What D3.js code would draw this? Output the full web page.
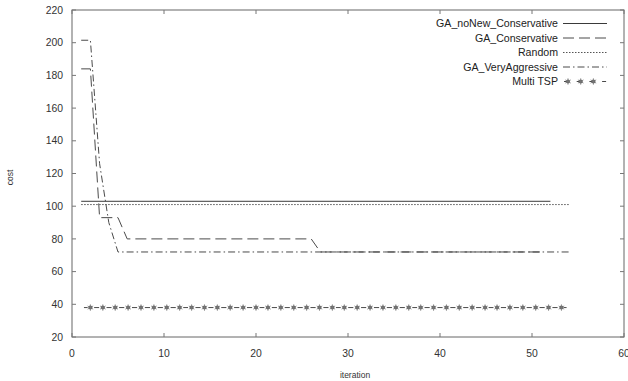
<!DOCTYPE html>
<html>
<head>
<meta charset="utf-8">
<script src="https://cdn.jsdelivr.net/npm/d3@7"></script>
<style>
  body { margin: 0; background: #fff; }
  svg { display: block; font-family: Arial, "Liberation Sans", sans-serif; }
</style>
</head>
<body>
<svg id="chart" width="628" height="381"></svg>
<script>
// breakpoints of each run (flat stretches are straight segments between them)
const noNewX = [1, 52];
const noNewY = [103, 103];
const conservativeX = [1, 2, 3, 5, 6, 26, 27, 51];
const conservativeY = [184, 184, 93, 93, 80, 80, 72, 72];
const randomX = [1, 54];
const randomY = [101, 101];
const aggressiveX = [1, 2, 3, 4, 5, 54];
const aggressiveY = [201.5, 201.5, 126, 90, 72, 72];
const multiTspX = [1, 54];
const multiTspY = [38, 38];
const multiTspPointsX = [2.0, 3.35, 4.7, 6.1, 7.5, 8.9, 10.3, 11.7, 13.0, 14.4, 15.8, 17.2, 18.6,
  20.0, 21.3, 22.7, 24.1, 25.5, 26.9, 28.3, 29.6, 31.0, 32.4, 33.8, 35.2, 36.6, 37.9, 39.3,
  40.7, 42.1, 43.5, 44.9, 46.2, 47.6, 49.0, 50.4, 51.8, 53.2];

const xTicks = [0, 10, 20, 30, 40, 50, 60];
const yTicks = [20, 40, 60, 80, 100, 120, 140, 160, 180, 200, 220];

const seriesNames = ['GA_noNew_Conservative', 'GA_Conservative', 'Random', 'GA_VeryAggressive', 'Multi TSP'];

const svg = d3.select('#chart');
const margin = { top: 10, right: 4, bottom: 44, left: 72 };
const width = 628, height = 381;
const ink = '#4a4a4a';

const x = d3.scaleLinear().domain([0, 60]).range([margin.left, width - margin.right]);
const y = d3.scaleLinear().domain([20, 220]).range([height - margin.bottom, margin.top]);

// frame
svg.append('rect')
  .attr('x', x(0)).attr('y', y(220))
  .attr('width', x(60) - x(0)).attr('height', y(20) - y(220))
  .attr('fill', 'none').attr('stroke', '#666').attr('stroke-width', 1);

const tickLen = 4;
const axisG = svg.append('g').attr('stroke', '#777').attr('stroke-width', 1);
xTicks.forEach(t => {
  axisG.append('line').attr('x1', x(t)).attr('x2', x(t)).attr('y1', y(20)).attr('y2', y(20) - tickLen);
  axisG.append('line').attr('x1', x(t)).attr('x2', x(t)).attr('y1', y(220)).attr('y2', y(220) + tickLen);
});
yTicks.forEach(t => {
  axisG.append('line').attr('x1', x(0)).attr('x2', x(0) + tickLen).attr('y1', y(t)).attr('y2', y(t));
  axisG.append('line').attr('x1', x(60)).attr('x2', x(60) - tickLen).attr('y1', y(t)).attr('y2', y(t));
});

svg.append('g').selectAll('text').data(xTicks).join('text')
  .attr('x', d => x(d)).attr('y', y(20) + 20)
  .attr('text-anchor', 'middle').attr('font-size', 10.4).attr('fill', '#333')
  .text(d => d);

svg.append('g').selectAll('text').data(yTicks).join('text')
  .attr('x', x(0) - 9).attr('y', d => y(d)).attr('dy', '0.35em')
  .attr('text-anchor', 'end').attr('font-size', 10.4).attr('fill', '#333')
  .text(d => d);

svg.append('text')
  .attr('x', 355).attr('y', 378)
  .attr('text-anchor', 'middle').attr('font-size', 8.5).attr('fill', '#333')
  .text('iteration');

svg.append('text')
  .attr('transform', `translate(13,${(y(20) + y(220)) / 2 + 4}) rotate(-90)`)
  .attr('text-anchor', 'middle').attr('font-size', 8.5).attr('fill', '#333')
  .text('cost');

const line = d3.line().x(d => x(d[0])).y(d => y(d[1]));
const zip = (xs, ys) => xs.map((v, i) => [v, ys[i]]);

const styles = [
  { dash: null, color: '#3a3a3a' },
  { dash: '11,5', color: ink },
  { dash: '1.5,1.5', color: '#555' },
  { dash: '7,3,1.5,3', color: ink },
];

const plot = svg.append('g').attr('fill', 'none').attr('stroke-width', 1);
[[noNewX, noNewY], [conservativeX, conservativeY], [randomX, randomY], [aggressiveX, aggressiveY]]
  .forEach(([xs, ys], i) => {
    plot.append('path')
      .attr('d', line(zip(xs, ys)))
      .attr('stroke', styles[i].color)
      .attr('stroke-dasharray', styles[i].dash);
  });

// Multi TSP: short dashes between markers
const marker = (g, cx, cy) => {
  const m = g.append('g').attr('transform', `translate(${cx},${cy})`);
  m.append('circle').attr('r', 2).attr('fill', '#666').attr('stroke', 'none');
  m.append('path').attr('d', d3.symbol(d3.symbolAsterisk, 28)()).attr('stroke', '#777').attr('stroke-width', 0.8).attr('fill', 'none');
};
const tspStops = [multiTspX[0], ...multiTspPointsX, multiTspX[1]];
const tspG = svg.append('g');
d3.pairs(tspStops).forEach(([a, b]) => {
  const pa = x(a), pb = x(b), mid = (pa + pb) / 2, half = (pb - pa) * 0.2;
  tspG.append('line')
    .attr('x1', mid - half).attr('x2', mid + half)
    .attr('y1', y(multiTspY[0])).attr('y2', y(multiTspY[0]))
    .attr('stroke', ink).attr('stroke-width', 1);
});
multiTspPointsX.forEach(v => marker(tspG, x(v), y(multiTspY[0])));

// legend
const legend = svg.append('g');
seriesNames.forEach((name, i) => {
  const ly = 23.5 + i * 14.5;
  legend.append('text')
    .attr('x', 558).attr('y', ly).attr('dy', '0.35em')
    .attr('text-anchor', 'end').attr('font-size', 10.6).attr('fill', '#222')
    .text(name);
  if (i < 4) {
    legend.append('line')
      .attr('x1', 563).attr('x2', 607).attr('y1', ly).attr('y2', ly)
      .attr('stroke', styles[i].color).attr('stroke-dasharray', styles[i].dash);
  } else {
    [563, 575.7, 588.4, 601.1].forEach(p => {
      legend.append('line').attr('x1', p + 1).attr('x2', p + 5).attr('y1', ly).attr('y2', ly)
        .attr('stroke', ink);
    });
    [568, 580.7, 593.4].forEach(p => marker(legend, p, ly));
  }
});
</script>
</body>
</html>
